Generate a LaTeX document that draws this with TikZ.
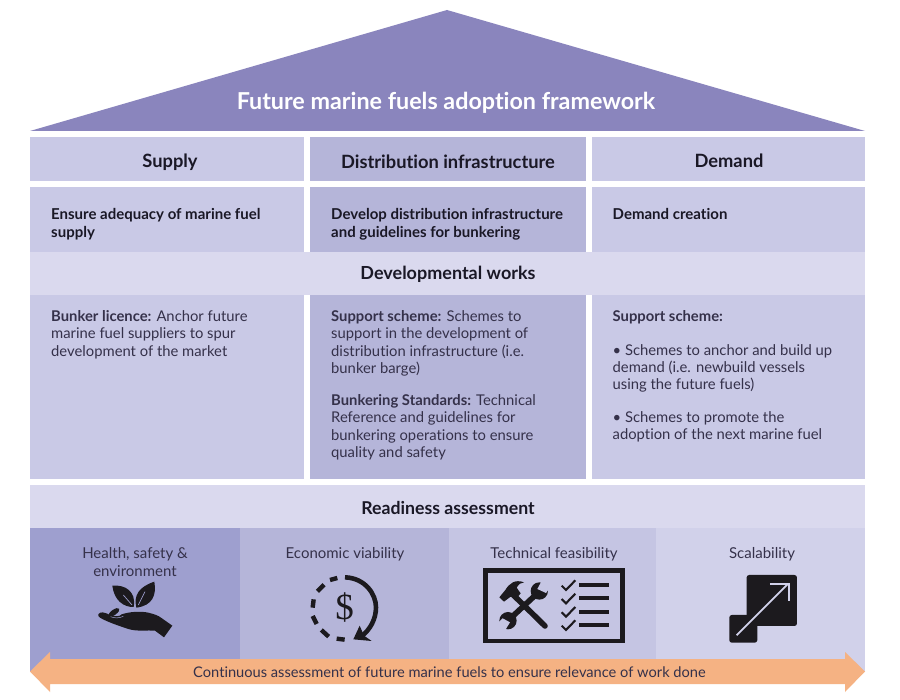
\documentclass[tikz,border=0pt]{standalone}
\usepackage{fontspec}
\setmainfont{Lato}[Ligatures=NoCommon]
\newfontfamily\dollarfont{Liberation Serif}
\definecolor{roofc}{HTML}{8A85BD}
\definecolor{lightc}{HTML}{C9C9E6}
\definecolor{midc}{HTML}{B5B5D9}
\definecolor{bandc}{HTML}{DAD9EE}
\definecolor{deepc}{HTML}{9E9FCF}
\definecolor{techc}{HTML}{C5C5E3}
\definecolor{scalec}{HTML}{D1D1EA}
\definecolor{arrowc}{HTML}{F5B283}
\definecolor{bodyc}{HTML}{35314A}
\definecolor{headc}{HTML}{1A1826}
\definecolor{iconc}{HTML}{1C1A1E}
\newcommand{\fs}[2]{\fontsize{#1}{#2}\selectfont}
\tikzset{
 head/.style={font=\fs{18.3}{20}\bfseries,text=headc,anchor=center,inner sep=0pt},
 band/.style={font=\fs{18}{20}\bfseries,text=headc,anchor=center,inner sep=0pt},
 lead/.style={font=\fs{15}{17.3}\bfseries,text=headc,align=left,anchor=north west,inner sep=0pt},
 body/.style={font=\fs{14.8}{17.3},text=bodyc,align=left,anchor=north west,inner sep=0pt},
 caption/.style={font=\fs{15}{18},text=bodyc,align=center,anchor=center,inner sep=0pt},
 inkline/.style={draw=iconc,line cap=butt},
}
\begin{document}
\begin{tikzpicture}[x=1pt,y=-1pt]
\useasboundingbox (0,0) rectangle (900,700);
\fill[white] (0,0) rectangle (900,700);
% roof
\fill[roofc] (30,131) -- (447,10) -- (865,131) -- cycle;
\node[font=\fs{23.3}{26}\bfseries,text=white,inner sep=0pt] (title) at (446,102.5) {Future marine fuels adoption framework};
% column heads
\fill[lightc] (30,137) rectangle (304,181);
\fill[midc] (310,137) rectangle (586,181);
\fill[lightc] (592,137) rectangle (865,181);
\node[head] (supply) at (170,162) {Supply};
\node[head] (dist) at (448,161.5) {Distribution infrastructure};
\node[head] (demand) at (729,161) {Demand};
% row 2
\fill[lightc] (30,187) rectangle (304,252);
\fill[midc] (310,187) rectangle (586,252);
\fill[lightc] (592,187) rectangle (865,252);
\node[lead] (t1) at (51,208.5) {Ensure adequacy of marine fuel\\supply};
\node[lead] (t2) at (331,208.5) {Develop distribution infrastructure\\and guidelines for bunkering};
\node[lead] (t3) at (612.5,208.5) {Demand creation};
% band
\fill[bandc] (30,252) rectangle (865,295);
\node[band] (dev) at (448,274) {Developmental works};
% row 3
\fill[lightc] (30,295) rectangle (304,479);
\fill[midc] (310,295) rectangle (586,479);
\fill[lightc] (592,295) rectangle (865,479);
\node[body] (b1) at (51,310.5) {\textbf{Bunker licence:} Anchor future\\marine fuel suppliers to spur\\development of the market};
\node[body] (b2) at (331,310.5) {\textbf{Support scheme:} Schemes to\\support in the development of\\distribution infrastructure (i.e.\\bunker barge)};
\node[body] (b3) at (331,394.5) {\textbf{Bunkering Standards:} Technical\\Reference and guidelines for\\bunkering operations to ensure\\quality and safety};
\node[body] (b4) at (612.5,310.5) {\textbf{Support scheme:}};
\node[body] (b5) at (612.5,344) {• Schemes to anchor and build up\\demand (i.e. newbuild vessels\\using the future fuels)};
\node[body] (b6) at (612.5,411) {• Schemes to promote the\\adoption of the next marine fuel};
% readiness
\fill[bandc] (30,485) rectangle (865,528);
\node[band,font=\fs{17.7}{20}\bfseries] (ready) at (448,507.5) {Readiness assessment};
\fill[deepc] (30,528) rectangle (240,672);
\fill[midc] (240,528) rectangle (449,660);
\fill[techc] (449,528) rectangle (656,660);
\fill[scalec] (656,528) rectangle (865,672);
\node[caption] (c1) at (135,562.5) {Health, safety \&\\environment};
\node[caption] (c2) at (345,554.5) {Economic viability};
\node[caption] (c3) at (554,554.5) {Technical feasibility};
\node[caption] (c4) at (762,554.5) {Scalability};
% hand and leaves icon
\begin{scope}[shift={(90,575)},x=0.3333pt,y=-0.3333pt]
\fill[iconc] (67,32) .. controls (105,28) and (140,50) .. (131,96) .. controls (100,97) and (72,75) .. cycle;
\fill[iconc] (193,20) .. controls (200,60) and (188,92) .. (139,98) .. controls (130,60) and (148,35) .. cycle;
\draw[deepc,line width=0.7pt] (100,60) -- (126,90);
\draw[deepc,line width=0.7pt] (165,50) -- (145,90);
\fill[iconc] (25,118) .. controls (30,108) and (45,112) .. (60,120) .. controls (75,125) and (90,125) .. (95,118)
 .. controls (120,110) and (150,108) .. (175,113) .. controls (195,118) and (205,122) .. (213,128)
 -- (247,152) -- (222,187) -- (195,167) .. controls (170,165) and (140,170) .. (115,162)
 .. controls (85,152) and (50,140) .. (30,128) .. controls (25,125) and (24,122) .. cycle;
\fill[iconc,rotate around={35:(72,112)}] (72,112) ellipse [x radius=19,y radius=8];
\draw[deepc,line width=0.5pt] (62,125) .. controls (72,130) and (88,130) .. (100,124);
\end{scope}
% dollar icon
\begin{scope}[shift={(300,570)},x=0.3333pt,y=-0.3333pt]
\node[font=\dollarfont\fs{37}{37},text=iconc,inner sep=0pt] (dollar) at (134,114) {\$};
\draw[inkline,line width=4.6pt] (135,22) .. controls (195,24) and (228,72) .. (228,112) .. controls (228,148) and (210,178) .. (187,197);
\fill[iconc] (179,167) -- (160,208) -- (215,213) -- (192,197) -- cycle;
\foreach \a/\b/\c/\d in {90/30/112/24,52/64/72/44,41/88/38/113,38/138/50/162,64/180/86/200,110/206/134/209}
  \draw[inkline,line width=4.4pt] (\a,\b) -- (\c,\d);
\end{scope}
% technical icon
\begin{scope}[shift={(480,565)},x=0.3333pt,y=-0.3333pt]
\draw[draw=iconc,line width=4.6pt] (17,17) rectangle (428,228);
\foreach \yy/\ck in {60/0,100/40,141/80,181/120}{
  \fill[iconc] (298,\yy-6) rectangle (388,\yy+6);
  \draw[iconc,line width=2.1pt] (245,62+\ck) -- (258,75+\ck) -- (286,46+\ck);
}
% wrench
\draw[iconc,line width=5.6pt,line cap=round] (100,152) -- (172,85);
\fill[iconc] (178,78) circle (26);
\fill[iconc] (84,167) circle (26);
\fill[techc] (172,72) -- (186,46) -- (215,62) -- (198,84) -- cycle;
\fill[techc] (90,172) -- (74,198) -- (48,180) -- (68,160) -- cycle;
% hammer
\draw[iconc,line width=5.6pt,line cap=round] (95,85) -- (195,183);
\fill[iconc] (58,97) -- (72,110) -- (92,95) -- (110,100) -- (122,85) -- (110,68) .. controls (116,58) and (123,52) .. (132,52) .. controls (105,42) and (88,55) .. (76,75) -- cycle;
\end{scope}
% scalability icon
\begin{scope}[shift={(440,480)},x=0.3333pt,y=-0.3333pt]
\fill[iconc,rounded corners=2.5pt] (920,285) rectangle (1071,438);
\fill[iconc,rounded corners=2.5pt] (868,405) rectangle (952,488);
\draw[scalec,line width=1.8pt] (890,466) -- (1045,311);
\draw[scalec,line width=1.8pt] (990,311) -- (1048,311) -- (1048,363);
\end{scope}
% arrow band
\fill[arrowc] (30,671.5) -- (50,652) -- (50,659) -- (845,659) -- (845,652) -- (865,671.5) -- (845,692) -- (845,684) -- (50,684) -- (50,692) -- cycle;
\node[font=\fs{14.65}{17},text=bodyc,inner sep=0pt] (arrowlabel) at (449.5,672.5) {Continuous assessment of future marine fuels to ensure relevance of work done};
\end{tikzpicture}
\end{document}
